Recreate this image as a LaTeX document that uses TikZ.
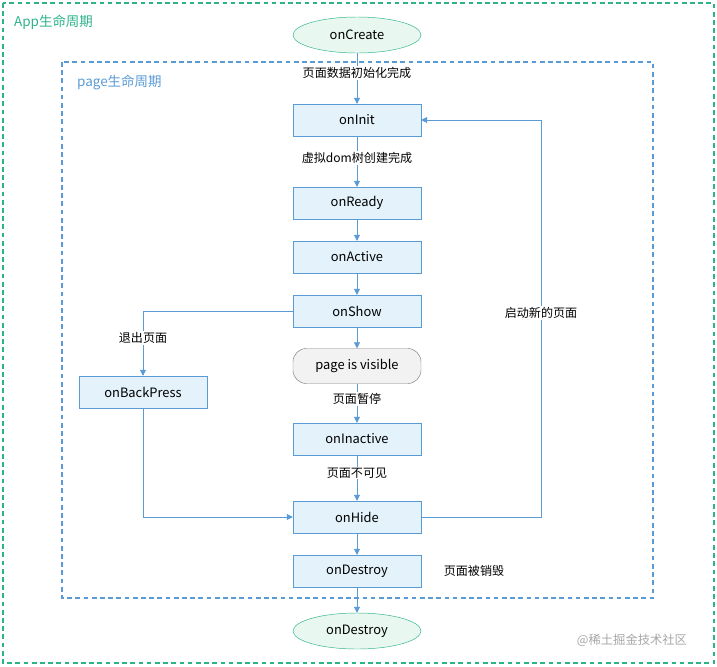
\documentclass[tikz,border=0pt]{standalone}
\usepackage{fontspec}
\setmainfont{Noto Sans CJK SC}
\usetikzlibrary{shapes.geometric,arrows.meta}
\definecolor{grn}{HTML}{2DB38A}
\definecolor{grnf}{HTML}{E8F8F0}
\definecolor{blu}{HTML}{5B9BD5}
\definecolor{bluf}{HTML}{E3F2FB}
\begin{document}
\begin{tikzpicture}[x=0.03cm,y=-0.03cm,
 box/.style={draw=blu,fill=bluf,minimum width=3.84cm,minimum height=0.96cm,font=\fontsize{11}{13}\selectfont,inner sep=0},
 ell/.style={ellipse,draw=grn,fill=grnf,minimum width=3.84cm,minimum height=1.08cm,font=\fontsize{11}{13}\selectfont,inner sep=0},
 lbl/.style={font=\fontsize{10.3}{12}\selectfont,fill=white,inner sep=1pt},
 arr/.style={draw=blu,-{Triangle[length=5pt,width=5pt]}},
 frame/.style={line width=1.1pt,dash pattern=on 4pt off 3pt}]
\useasboundingbox (0,0) rectangle (717,667);
\draw[grn,frame] (3,3) rectangle (714,663);
\node[grn,anchor=west,font=\fontsize{11.5}{13}\selectfont] (app) at (10,22) {App生命周期};
\draw[blu,frame] (62,62) rectangle (653,598);
\node[blu,anchor=west,font=\fontsize{11.5}{13}\selectfont] (pg) at (73,82) {page生命周期};
\node[ell] (c) at (357,35) {onCreate};
\node[box] (init) at (357,120) {onInit};
\node[box] (ready) at (357,203) {onReady};
\node[box] (act) at (357,257) {onActive};
\node[box] (show) at (357,311) {onShow};
\node[box,draw=gray,fill=gray!10,rounded corners=0.4cm,minimum height=1.05cm] (vis) at (357,366) {page is visible};
\node[box] (inact) at (357,439) {onInactive};
\node[box] (hide) at (357,517) {onHide};
\node[box] (dest) at (357,571) {onDestroy};
\node[box] (back) at (143,392) {onBackPress};
\node[ell] (d2) at (357,631) {onDestroy};
\draw[arr] (c) -- (init);
\draw[arr] (init) -- (ready);
\draw[arr] (ready) -- (act);
\draw[arr] (act) -- (show);
\draw[arr] (show) -- (vis);
\draw[arr] (vis) -- (inact);
\draw[arr] (inact) -- (hide);
\draw[arr] (hide) -- (dest);
\draw[arr] (dest) -- (d2);
\draw[arr] (show.west) -| (back.north);
\draw[arr] (back.south) |- (hide.west);
\draw[arr] (hide.east) -- (541,517) |- (init.east);
\node[lbl] (l1) at (357,73) {页面数据初始化完成};
\node[lbl] (l2) at (357,158) {虚拟dom树创建完成};
\node[lbl] (l3) at (357,399) {页面暂停};
\node[lbl] (l4) at (357,473) {页面不可见};
\node[lbl] (l5) at (474,571) {页面被销毁};
\node[lbl] (l6) at (143,338) {退出页面};
\node[lbl] (l7) at (541,313) {启动新的页面};
\node[gray!70,font=\fontsize{10.5}{12}\selectfont] (wm) at (632,640) {@稀土掘金技术社区};
\end{tikzpicture}
\end{document}
